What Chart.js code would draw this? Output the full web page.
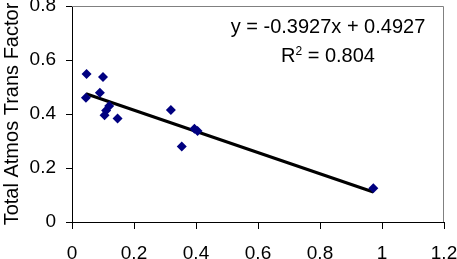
<!DOCTYPE html>
<html>
<head>
<meta charset="utf-8">
<script src="https://cdn.jsdelivr.net/npm/chart.js@4/dist/chart.umd.min.js"></script>
<style>
  html, body { margin: 0; padding: 0; background: #fff; }
  #wrap { width: 457px; height: 259px; position: relative; }
</style>
</head>
<body>
<div id="wrap"><canvas id="c"></canvas></div>
<script>
// measured points
const xVals = [0.047, 0.100, 0.090, 0.045, 0.120, 0.110, 0.105, 0.147, 0.319, 0.354, 0.395, 0.405, 0.972];
const yVals = [0.548, 0.537, 0.479, 0.460, 0.430, 0.413, 0.395, 0.383, 0.415, 0.280, 0.345, 0.337, 0.125];
const slope = -0.3927;
const intercept = 0.4927;
const eqText = 'y = -0.3927x + 0.4927';
const r2Text = '0.804';
const xTicks = [0, 0.2, 0.4, 0.6, 0.8, 1, 1.2];
const yTicks = [0, 0.2, 0.4, 0.6, 0.8];

const points = xVals.map((x, i) => ({ x: x, y: yVals[i] }));
const xMin = Math.min(...xVals), xMax = Math.max(...xVals);
const trend = [
  { x: xMin, y: slope * xMin + intercept },
  { x: xMax, y: slope * xMax + intercept }
];

const FONT = "'Liberation Sans', Arial, sans-serif";

// no extra room for overhanging tick labels
function noPad(s) {
  s.paddingTop = 0;
  s.paddingBottom = 0;
  s.paddingLeft = 0;
  s.paddingRight = 0;
}

// grey frame on top / right + equation label
const extras = {
  id: 'extras',
  beforeDatasetsDraw(chart) {
    const { ctx, chartArea: a } = chart;
    ctx.save();
    ctx.strokeStyle = '#808080';
    ctx.lineWidth = 1;
    ctx.beginPath();
    ctx.moveTo(a.left, a.top + 0.5);
    ctx.lineTo(a.right - 0.5, a.top + 0.5);
    ctx.lineTo(a.right - 0.5, a.bottom);
    ctx.stroke();
    ctx.restore();
  },
  afterDraw(chart) {
    const { ctx } = chart;
    const cx = 328;
    ctx.save();
    ctx.fillStyle = '#000';
    ctx.textBaseline = 'alphabetic';
    ctx.font = '20px ' + FONT;
    ctx.textAlign = 'center';
    ctx.fillText(eqText, cx, 33);
    // R^2 line
    const rest = ' = ' + r2Text;
    const wR = ctx.measureText('R').width;
    ctx.font = '12px ' + FONT;
    const w2 = ctx.measureText('2').width;
    ctx.font = '20px ' + FONT;
    const wRest = ctx.measureText(rest).width;
    let x0 = cx - (wR + w2 + wRest) / 2;
    ctx.textAlign = 'left';
    ctx.fillText('R', x0, 62);
    ctx.font = '12px ' + FONT;
    ctx.fillText('2', x0 + wR, 55);
    ctx.font = '20px ' + FONT;
    ctx.fillText(rest, x0 + wR + w2, 62);
    ctx.restore();
  }
};

new Chart(document.getElementById('c'), {
  type: 'scatter',
  data: {
    datasets: [
      {
        label: 'data',
        data: points,
        pointStyle: 'rectRot',
        pointRadius: 5,
        backgroundColor: '#000080',
        borderColor: '#000080',
        borderWidth: 0,
        order: 1
      },
      {
        label: 'trend',
        type: 'line',
        data: trend,
        borderColor: '#000',
        borderWidth: 3,
        pointRadius: 0,
        fill: false,
        order: 2
      }
    ]
  },
  options: {
    responsive: true,
    maintainAspectRatio: false,
    animation: false,
    layout: { autoPadding: false, padding: { top: 6, right: 13, left: 0, bottom: 0 } },
    plugins: {
      legend: { display: false },
      tooltip: { enabled: false }
    },
    scales: {
      x: {
        type: 'linear',
        min: 0,
        max: 1.2,
        afterBuildTicks: (s) => { s.ticks = xTicks.map(v => ({ value: v })); },
        afterFit: (s) => { s.height = 37; noPad(s); },
        grid: { drawOnChartArea: false, drawTicks: true, tickLength: 7, color: '#000' },
        border: { color: '#000', width: 1 },
        ticks: {
          color: '#000',
          font: { family: FONT, size: 19 },
          padding: 13,
          maxRotation: 0,
          callback: (v) => String(v)
        }
      },
      y: {
        type: 'linear',
        min: 0,
        max: 0.8,
        afterBuildTicks: (s) => { s.ticks = yTicks.map(v => ({ value: v })); },
        afterFit: (s) => { s.width = 72; noPad(s); },
        grid: { drawOnChartArea: false, drawTicks: true, tickLength: 6, color: '#000' },
        border: { color: '#000', width: 1 },
        title: {
          display: true,
          text: 'Total Atmos Trans Factor',
          color: '#000',
          font: { family: FONT, size: 20 },
          padding: { top: 0, bottom: 0 }
        },
        ticks: {
          color: '#000',
          font: { family: FONT, size: 19 },
          padding: 10,
          callback: (v) => String(v)
        }
      }
    }
  },
  plugins: [extras]
});
</script>
</body>
</html>
